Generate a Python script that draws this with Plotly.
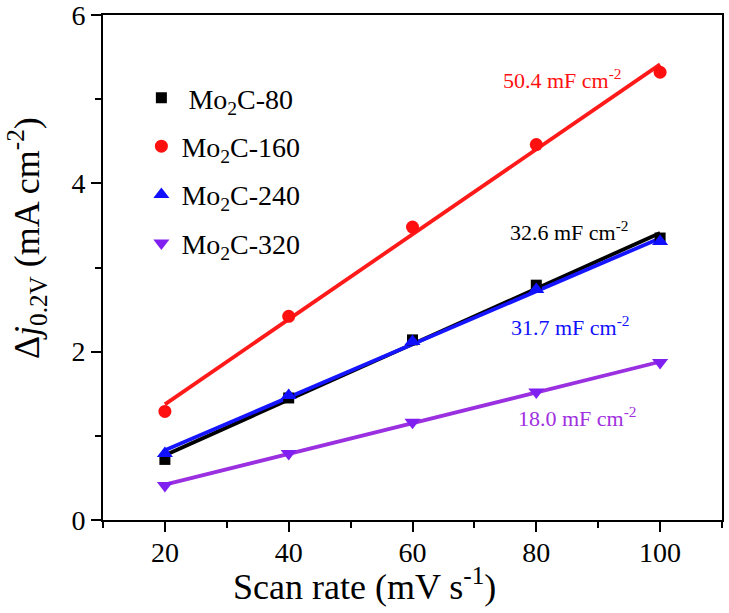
import numpy as np
import plotly.graph_objects as go

scan_rate = [20, 40, 60, 80, 100]
mo2c_80 = [0.72, 1.45, 2.14, 2.79, 3.35]
mo2c_160 = [1.29, 2.42, 3.48, 4.46, 5.32]
mo2c_240 = [0.79, 1.48, 2.12, 2.74, 3.31]
mo2c_320 = [0.41, 0.79, 1.16, 1.52, 1.87]

series_names = [" Mo<sub>2</sub>C-80", "Mo<sub>2</sub>C-160", "Mo<sub>2</sub>C-240", "Mo<sub>2</sub>C-320"]
capacitance_labels = ["32.6 mF cm<sup>-2</sup>", "50.4 mF cm<sup>-2</sup>", "31.7 mF cm<sup>-2</sup>", "18.0 mF cm<sup>-2</sup>"]

x_ticks = [20, 40, 60, 80, 100]
y_ticks = [0, 2, 4, 6]
x_title = "Scan rate (mV s<sup>-1</sup>)"
y_title = "Δ<i>j</i><sub>0.2V</sub> (mA cm<sup>-2</sup>)"

FONT = "Liberation Serif, Times New Roman, serif"
styles = [
    dict(color="#000000", symbol="square", size=11),
    dict(color="#ff1010", symbol="circle", size=13),
    dict(color="#1010ff", symbol="triangle-up", size=14),
    dict(color="#8020f0", symbol="triangle-down", size=14),
]
line_colors = ["#000000", "#ff1a1a", "#1515ff", "#9a30e0"]
text_colors = ["#000000", "#ff1010", "#1010ff", "#a030e0"]
all_series = [mo2c_80, mo2c_160, mo2c_240, mo2c_320]

fig = go.Figure()
xs = np.array(scan_rate, dtype=float)
for i in [1, 0, 2, 3]:
    ys = np.array(all_series[i])
    k, b = np.polyfit(xs, ys, 1)
    fx = np.array([xs[0], xs[-1]])
    fig.add_trace(go.Scatter(x=fx, y=k * fx + b, mode="lines",
                             line=dict(color=line_colors[i], width=3.8),
                             showlegend=False, hoverinfo="skip"))
for i in range(4):
    s = styles[i]
    fig.add_trace(go.Scatter(x=scan_rate, y=all_series[i], mode="markers",
                             name=series_names[i], legendgroup=str(i),
                             marker=dict(color=s["color"], symbol=s["symbol"], size=s["size"],
                                         line=dict(width=0))))

ann_pos = [(85.4, 3.43), (84.2, 5.24), (85.6, 2.30), (86.6, 1.22)]
for i in range(4):
    fig.add_annotation(x=ann_pos[i][0], y=ann_pos[i][1], text=capacitance_labels[i],
                       showarrow=False, font=dict(family=FONT, size=22, color=text_colors[i]))

# axis titles placed as annotations (paper coords)
fig.add_annotation(xref="paper", yref="paper", x=(364 - 103) / 619, y=(520.5 - 585) / 506,
                   text=x_title, showarrow=False, xanchor="center", yanchor="middle",
                   font=dict(family=FONT, size=36, color="black"))
fig.add_annotation(xref="paper", yref="paper", x=(27 - 103) / 619, y=(520.5 - 238) / 506,
                   text=y_title, showarrow=False, textangle=-90, xanchor="center", yanchor="middle",
                   font=dict(family=FONT, size=36, color="black"))

axis_common = dict(showline=True, linecolor="black", linewidth=2, mirror=True,
                   ticks="outside", ticklen=10, tickwidth=2, tickcolor="black",
                   showgrid=False, zeroline=False, automargin=False,
                   tickfont=dict(family=FONT, size=28, color="black"))
fig.update_xaxes(range=[10, 110], tickvals=x_ticks, ticktext=[str(v) for v in x_ticks],
                 minor=dict(dtick=10, tick0=10, ticks="outside", ticklen=6, tickwidth=2, tickcolor="black"),
                 ticklabelstandoff=-4,
                 **axis_common)
fig.update_yaxes(range=[0, 6], tickvals=y_ticks, ticktext=[str(v) for v in y_ticks],
                 minor=dict(dtick=1, tick0=0, ticks="outside", ticklen=6, tickwidth=2, tickcolor="black"),
                 ticklabeloverflow="allow",
                 **axis_common)

fig.update_layout(
    width=729, height=613,
    margin=dict(l=103, r=7, t=14.5, b=92.5, autoexpand=False),
    paper_bgcolor="white", plot_bgcolor="white",
    legend=dict(x=0.062, y=0.885, xanchor="left", yanchor="top",
                font=dict(family=FONT, size=28, color="black"),
                bgcolor="rgba(0,0,0,0)", tracegroupgap=9, itemwidth=30),
)

fig.write_html("out.html", config={"displayModeBar": False},
               post_script="document.body.style.margin='0';document.body.style.padding='0';")
